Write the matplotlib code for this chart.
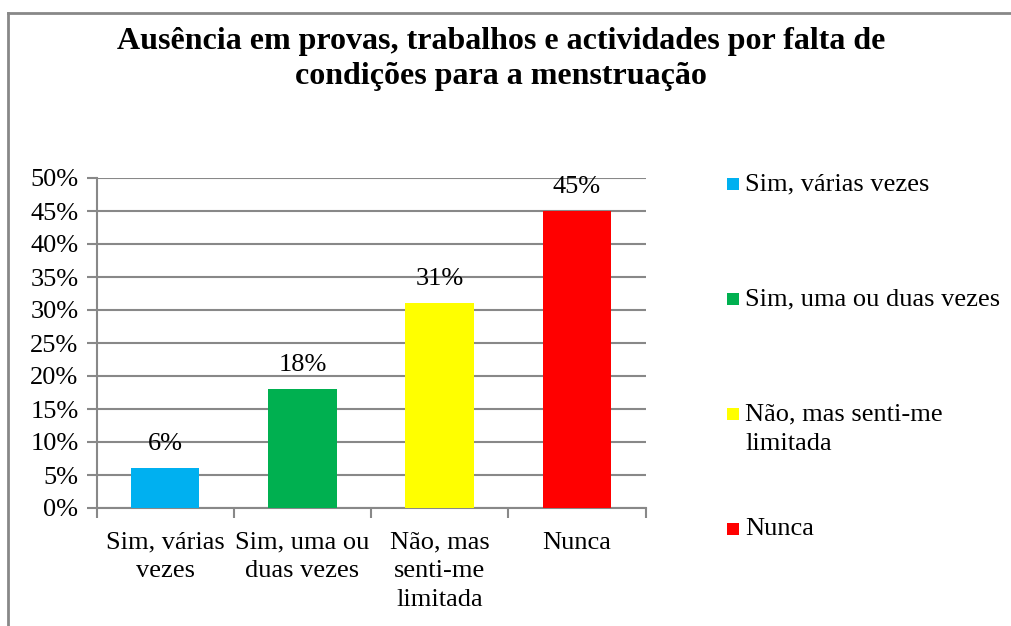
import matplotlib
matplotlib.use("Agg")
import matplotlib.pyplot as plt
from matplotlib.lines import Line2D
from matplotlib.patches import Rectangle
from matplotlib.ticker import FuncFormatter, MultipleLocator

categories = ["Sim, várias\nvezes", "Sim, uma ou\nduas vezes", "Não, mas\nsenti-me\nlimitada", "Nunca"]
legend_labels = ["Sim, várias vezes", "Sim, uma ou duas vezes", "Não, mas senti-me\nlimitada", "Nunca"]
values = [6, 18, 31, 45]
colors = ["#00B0F0", "#00B050", "#FFFF00", "#FF0000"]

GRID = "#888888"
W, H = 1012, 626

plt.rcParams["font.family"] = ["Liberation Serif", "DejaVu Serif"]

fig = plt.figure(figsize=(W / 100, H / 100), dpi=100)
fig.patch.set_facecolor("white")

# outer chart frame (only left and top edges visible in crop)
fig.add_artist(Line2D([8 / W, 8 / W], [0, 1 - 13 / H], color=GRID, lw=2))
fig.add_artist(Line2D([8 / W, 1], [1 - 13 / H, 1 - 13 / H], color=GRID, lw=2))

ax = fig.add_axes([96.5 / W, 1 - 508 / H, (645.5 - 96.5) / W, (508 - 178) / H])
x = range(len(values))
bars = ax.bar(x, values, width=0.5, color=colors, zorder=3)
for b, v in zip(bars, values):
    ax.text(b.get_x() + b.get_width() / 2, v + 2.0, f"{v}%", ha="center",
            va="bottom", fontsize=19)

ax.set_xlim(-0.5, len(values) - 0.5)
ax.set_ylim(0, 50)
ax.yaxis.set_major_locator(MultipleLocator(5))
ax.yaxis.set_major_formatter(FuncFormatter(lambda v, p: f"{v:.0f}%"))
ax.grid(axis="y", color=GRID, lw=1.5, zorder=0)
ax.set_xticks(list(x))
ax.set_xticklabels(categories, fontsize=19, linespacing=1.4)
ax.set_xticks([i - 0.5 for i in range(len(values) + 1)], minor=True)
ax.tick_params(axis="x", which="major", length=0, pad=17)
ax.tick_params(axis="x", which="minor", length=7, width=1.5, color=GRID)
ax.tick_params(axis="y", length=7, width=1.5, color=GRID, labelsize=19, pad=6)
for s in ["top", "right"]:
    ax.spines[s].set_visible(False)
for s in ["left", "bottom"]:
    ax.spines[s].set_color(GRID)
    ax.spines[s].set_linewidth(1.5)

fig.text(501 / W, 1 - 59 / H,
         "Ausência em provas, trabalhos e actividades por falta de\ncondições para a menstruação",
         ha="center", va="center", fontsize=23, fontweight="bold", linespacing=1.3)

# legend, drawn by hand to match the evenly spaced entries
for i, (lab, c) in enumerate(zip(legend_labels, colors)):
    yc = 184 + i * 115
    fig.add_artist(Rectangle((727 / W, 1 - (yc + 6) / H), 12 / W, 12 / H,
                             facecolor=c, edgecolor="none"))
    fig.text(745 / W, 1 - (yc - 11) / H, lab, ha="left", va="top", fontsize=19,
             linespacing=1.5)

fig.savefig("out.png", dpi=100, facecolor="white")
